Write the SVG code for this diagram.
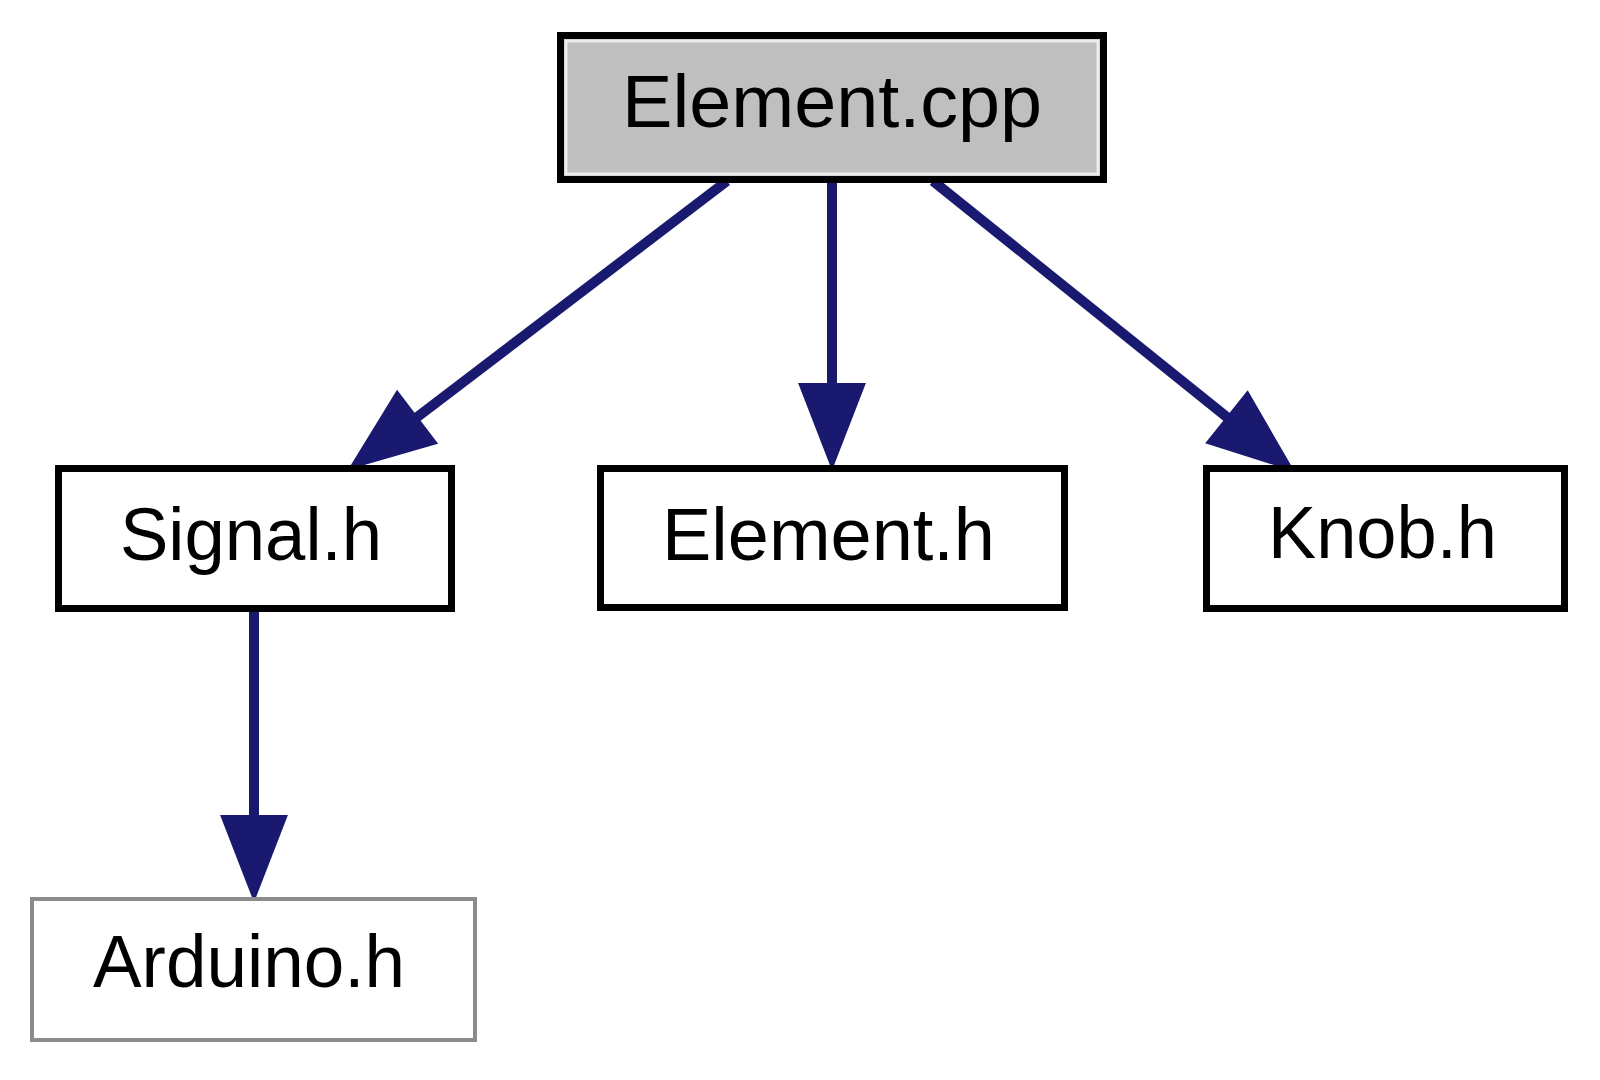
<svg xmlns="http://www.w3.org/2000/svg" width="1600" height="1080" viewBox="0 0 1600 1080">
  <style>
    .node rect { fill: #ffffff; stroke: #000000; stroke-width: 7; }
    .node text { font-family: "Liberation Sans", Arial, sans-serif; font-size: 75px; fill: #000000; text-anchor: middle; }
    #n_element_cpp rect.main { fill: #bfbfbf; }
    #n_element_cpp rect.inner { fill: none; stroke: #ececec; stroke-width: 3; }
    #n_arduino_h rect { stroke: #8c8c8c; stroke-width: 4; }
    .edge { fill: none; stroke: #191970; stroke-width: 10; }
  </style>
  <defs>
    <marker id="arrow" markerUnits="userSpaceOnUse" markerWidth="90" markerHeight="70" refX="0" refY="0" viewBox="-4 -35 90 70" orient="auto" overflow="visible">
      <path d="M0,-31 L80,0 L0,31 Z" fill="#191970" stroke="#191970" stroke-width="4" stroke-linejoin="miter"/>
    </marker>
  </defs>
  <rect x="0" y="0" width="1600" height="1080" fill="#ffffff"/>

  <g id="connectors">
    <path class="edge" d="M727,181 L416,418" marker-end="url(#arrow)"/>
    <path class="edge" d="M832,181 L832,385" marker-end="url(#arrow)"/>
    <path class="edge" d="M933,181 L1228,418" marker-end="url(#arrow)"/>
    <path class="edge" d="M254,610 L254,817" marker-end="url(#arrow)"/>
  </g>

  <g id="n_element_cpp" class="node">
    <rect class="main" x="560.5" y="35.5" width="543" height="144"/>
    <rect class="inner" x="566" y="41" width="532" height="133"/>
    <text x="832" y="127" textLength="420" lengthAdjust="spacingAndGlyphs">Element.cpp</text>
  </g>

  <g id="n_signal_h" class="node">
    <rect x="58.5" y="468.5" width="393" height="140"/>
    <text x="251" y="560" textLength="262" lengthAdjust="spacingAndGlyphs">Signal.h</text>
  </g>

  <g id="n_element_h" class="node">
    <rect x="600.5" y="468.5" width="464" height="139"/>
    <text x="828.5" y="560" textLength="333" lengthAdjust="spacingAndGlyphs">Element.h</text>
  </g>

  <g id="n_knob_h" class="node">
    <rect x="1206.5" y="468.5" width="358" height="140"/>
    <text x="1382.5" y="558" textLength="229" lengthAdjust="spacingAndGlyphs">Knob.h</text>
  </g>

  <g id="n_arduino_h" class="node">
    <rect x="32" y="899" width="443" height="141"/>
    <text x="249" y="987" textLength="312" lengthAdjust="spacingAndGlyphs">Arduino.h</text>
  </g>
</svg>
